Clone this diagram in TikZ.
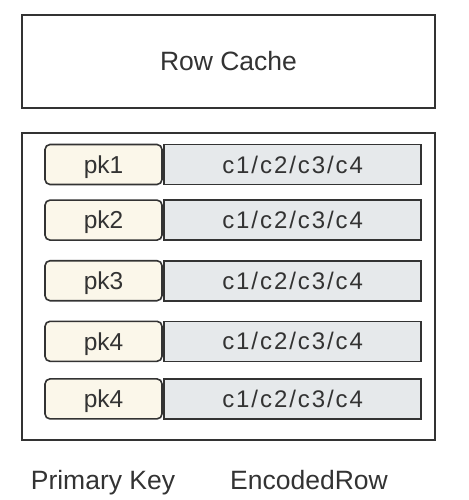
\documentclass[tikz,border=0pt]{standalone}
\usepackage{fontspec}
\setmainfont{Liberation Sans}
\usetikzlibrary{positioning}

\definecolor{linegray}{HTML}{333333}
\definecolor{keyfill}{HTML}{FBF7EA}
\definecolor{rowfill}{HTML}{E6E9EB}

\begin{document}
\begin{tikzpicture}[
x=1pt, y=1pt,
every node/.style={
draw=linegray,
line width=1.6pt,
text=linegray,
inner sep=0pt
},
keybox/.style={
fill=keyfill,
rounded corners=5pt,
minimum width=117pt,
minimum height=40pt,
text depth=0pt,
font=\fontsize{24.5}{26}\selectfont
},
rowbox/.style={
fill=rowfill,
minimum width=257pt,
minimum height=40pt,
text depth=0pt,
font=\fontsize{24}{26}\selectfont\addfontfeature{LetterSpace=8}
},
caption/.style={
draw=none,
font=\fontsize{26.5}{28}\selectfont
}
]
\useasboundingbox (0,0) rectangle (468,-500);

% ------------------------
% Cache and table frames
% ------------------------
\node[minimum width=413pt, minimum height=93pt, font=\fontsize{26.5}{28}\selectfont]
(cache) at (228.5,-61.5) {Row Cache};

\node[minimum width=413pt, minimum height=307pt] (table) at (228.5,-286.5) {};

% ------------------------
% Rows: primary key + encoded row
% ------------------------
\node[keybox] (pk1) at (103.5,-164.5) {pk1};
\node[keybox, below=14pt of pk1] (pk2) {pk2};
\node[keybox, below=19pt of pk2] (pk3) {pk3};
\node[keybox, below=19pt of pk3] (pk4) {pk4};
\node[keybox, below=16pt of pk4] (pk5) {pk4};

\node[rowbox, right=0.5pt of pk1] (row1) {c1/c2/c3/c4};
\node[rowbox, right=0.5pt of pk2] (row2) {c1/c2/c3/c4};
\node[rowbox, right=0.5pt of pk3] (row3) {c1/c2/c3/c4};
\node[rowbox, right=0.5pt of pk4] (row4) {c1/c2/c3/c4};
\node[rowbox, right=0.5pt of pk5] (row5) {c1/c2/c3/c4};

% ------------------------
% Column captions
% ------------------------
\node[caption] (pkcap) at (103,-483) {Primary Key};
\node[caption] (rowcap) at (309,-480) {EncodedRow};

\end{tikzpicture}
\end{document}
